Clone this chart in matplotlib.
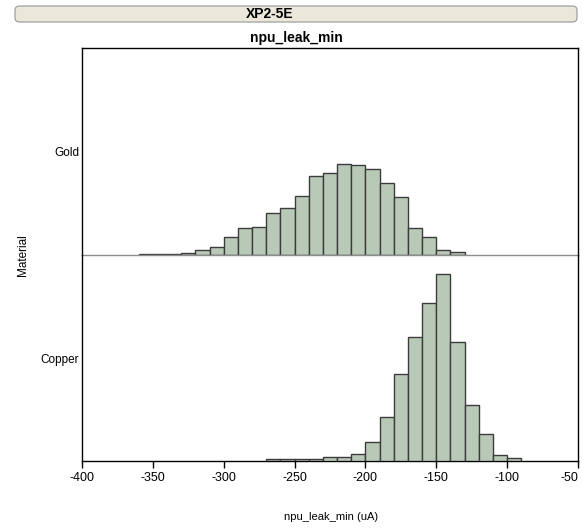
import numpy as np
import matplotlib.pyplot as plt
from matplotlib.patches import FancyBboxPatch

plt.rcParams['font.family'] = ['Liberation Sans', 'DejaVu Sans']

# bins of 10 uA, counts
gold_edges = np.arange(-360, -120, 10)
gold_counts = [1, 1, 1, 2.5, 5, 8, 18, 27, 28, 42, 47, 59, 79, 82, 91, 90, 86, 72, 58, 27, 18, 5, 2.7]

copper_edges = np.arange(-270, -80, 10)
copper_counts = [2, 2, 2, 2, 4, 4, 7, 19, 44, 87, 125, 159, 188, 120, 56, 27, 6, 3]

materials = ['Gold', 'Copper']
xticks = [-400, -350, -300, -250, -200, -150, -100, -50]

bar_col = '#b9c9b8'
edge_col = '#3c3c3c'

fig = plt.figure(figsize=(5.85, 5.30), dpi=100)
L, R = 82 / 585, 578 / 585
y_top, y_mid, y_bot = 1 - 48 / 530, 1 - 255 / 530, 1 - 461 / 530

ax1 = fig.add_axes([L, y_mid, R - L, y_top - y_mid])
ax2 = fig.add_axes([L, y_bot, R - L, y_mid - y_bot], sharex=ax1)
ax2.patch.set_visible(False)

ymax = 207
for ax, edges, counts, name in [(ax1, gold_edges, gold_counts, materials[0]),
                                (ax2, copper_edges, copper_counts, materials[1])]:
    ax.bar(edges[:len(counts)], counts, width=10, align='edge',
           color=bar_col, edgecolor=edge_col, linewidth=1.0, zorder=3)
    ax.set_ylim(0, ymax)
    ax.set_yticks([ymax / 2])
    ax.set_yticklabels([name], fontsize=8.5)
    ax.tick_params(axis='y', length=0, pad=2)
    for s in ax.spines.values():
        s.set_color('black')
        s.set_linewidth(1.0)

ax1.set_xlim(-400, -50)
ax1.spines['bottom'].set_color('#8c8c8c')
ax1.spines['bottom'].set_zorder(5)
ax2.spines['top'].set_visible(False)
ax1.tick_params(axis='x', length=0, labelbottom=False)
ax2.set_xticks(xticks)
ax2.set_xticklabels([str(t) for t in xticks], fontsize=9)
ax2.tick_params(axis='x', direction='out', length=5, pad=3, width=1)

# keep the last label inside the figure edge
ax2.get_xticklabels()[-1].set_horizontalalignment('right')

fig.text(23 / 585, 1 - 255 / 530, 'Material', rotation=90, ha='center', va='center', fontsize=8.5)
fig.text(331 / 585, 1 - 517 / 530, 'npu_leak_min (uA)', ha='center', va='center', fontsize=8)
fig.text(296 / 585, 1 - 38 / 530, 'npu_leak_min', ha='center', va='center', fontsize=10, fontweight='bold')

banner = FancyBboxPatch((15 / 585, 1 - 22 / 530), 562 / 585, 16 / 530,
                        boxstyle='round,pad=0,rounding_size=0.008',
                        transform=fig.transFigure, facecolor='#ebe8d9',
                        edgecolor='#a8a8a8', linewidth=1.0)
fig.patches.append(banner)
fig.text(270 / 585, 1 - 14 / 530, 'XP2-5E', ha='center', va='center', fontsize=10, fontweight='bold')

fig.savefig('out.png', dpi=100)
